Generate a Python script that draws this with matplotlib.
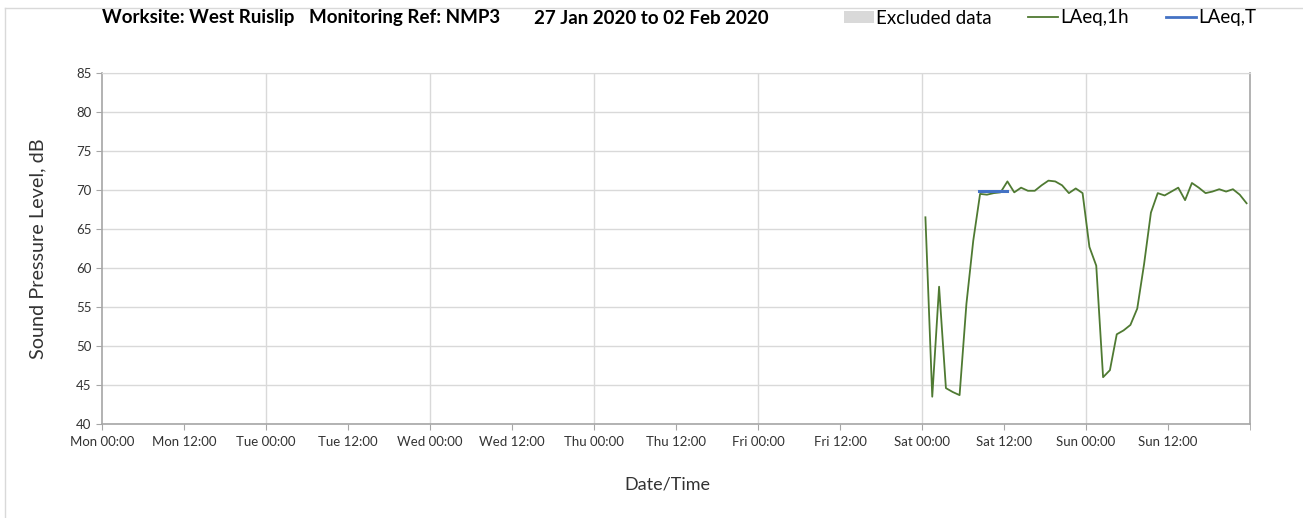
import matplotlib
matplotlib.use("Agg")
import matplotlib.pyplot as plt
from matplotlib.lines import Line2D
from matplotlib.patches import Patch

plt.rcParams['font.family'] = ['Lato', 'DejaVu Sans']

# hours since Mon 00:00; hourly LAeq,1h readings from Sat 00:30
sat_start = 120
laeq_1h = [66.5, 43.5, 57.6, 44.6, 44.1, 43.7, 55.4, 63.5, 69.5, 69.4,
           69.6, 69.7, 71.1, 69.7, 70.3, 69.9, 69.9, 70.6, 71.2, 71.1,
           70.6, 69.6, 70.2, 69.6, 62.7, 60.3, 46.0, 46.9, 51.5, 52.0,
           52.7, 54.8, 60.5, 67.1, 69.6, 69.3, 69.8, 70.3, 68.7, 70.9,
           70.3, 69.6, 69.8, 70.1, 69.8, 70.1, 69.4, 68.3]
hours_1h = [sat_start + 0.5 + i for i in range(len(laeq_1h))]

# LAeq,T period
laeq_t_hours = [128.4, 132.5]
laeq_t = [69.9, 69.9]

days = ["Mon", "Tue", "Wed", "Thu", "Fri", "Sat", "Sun"]
tick_hours = list(range(0, 168, 12))
tick_labels = [f"{days[h // 24]} {h % 24:02d}:00" for h in tick_hours]

green = "#4F7A32"
blue = "#4472C4"
grid_grey = "#D9D9D9"
axis_grey = "#A6A6A6"

W, H = 1303, 518
fig = plt.figure(figsize=(W / 100, H / 100), dpi=100)
ax = fig.add_axes([102 / W, 1 - 424 / H, 1148 / W, 351 / H])

ax.plot(hours_1h, laeq_1h, color=green, linewidth=1.3)
ax.plot(laeq_t_hours, laeq_t, color=blue, linewidth=2.2)

ax.set_xlim(0, 168)
ax.set_ylim(40, 85)
ax.set_yticks(range(40, 90, 5))
ax.set_xticks(tick_hours)
ax.set_xticklabels(tick_labels, fontsize=9.5)
ax.set_xticks([168], minor=True)
ax.tick_params(axis='y', labelsize=9.5, colors="#333333", length=4, color=axis_grey)
ax.tick_params(axis='x', which='both', colors="#333333", length=4, color=axis_grey, pad=5)

ax.grid(axis='y', color=grid_grey, linewidth=1)
for h in range(24, 168, 24):
    ax.axvline(h, color=grid_grey, linewidth=1, zorder=0)
ax.set_axisbelow(True)

for side in ['left', 'bottom', 'right']:
    ax.spines[side].set_color(axis_grey)
    ax.spines[side].set_linewidth(1.2)
ax.spines['top'].set_color(grid_grey)

ax.set_ylabel("Sound Pressure Level, dB", fontsize=14.3, color="#333333")
ax.yaxis.set_label_coords((46 - 102) / 1148, 0.5)
ax.set_xlabel("Date/Time", fontsize=13, color="#333333")
ax.xaxis.set_label_coords((667 - 102) / 1148, -(476 - 424) / 351)

# title pieces
title_y = 1 - 18 / H
fig.text(102 / W, title_y, "Worksite: West Ruislip", fontsize=13.5, fontweight='bold', va='center')
fig.text(309 / W, title_y, "Monitoring Ref: NMP3", fontsize=13.5, fontweight='bold', va='center')
fig.text(534 / W, title_y, "27 Jan 2020 to 02 Feb 2020", fontsize=13.5, fontweight='bold', va='center')

handles = [Patch(facecolor=grid_grey, edgecolor='none'),
           Line2D([], [], color=green, linewidth=1.3),
           Line2D([], [], color=blue, linewidth=2)]
fig.legend(handles, ["Excluded data", "LAeq,1h", "LAeq,T"], loc='center right',
           bbox_to_anchor=(1256 / W, title_y), ncol=3, frameon=False, fontsize=13.5,
           handlelength=1.6, handletextpad=0.12, columnspacing=1.95, handleheight=0.55,
           borderpad=0, borderaxespad=0)

# outer chart frame (top and left edges visible)
fig.add_artist(Line2D([5 / W, 1], [1 - 8 / H, 1 - 8 / H], color=grid_grey, linewidth=1))
fig.add_artist(Line2D([5 / W, 5 / W], [0, 1 - 8 / H], color=grid_grey, linewidth=1))

fig.savefig("out.png", dpi=100)
